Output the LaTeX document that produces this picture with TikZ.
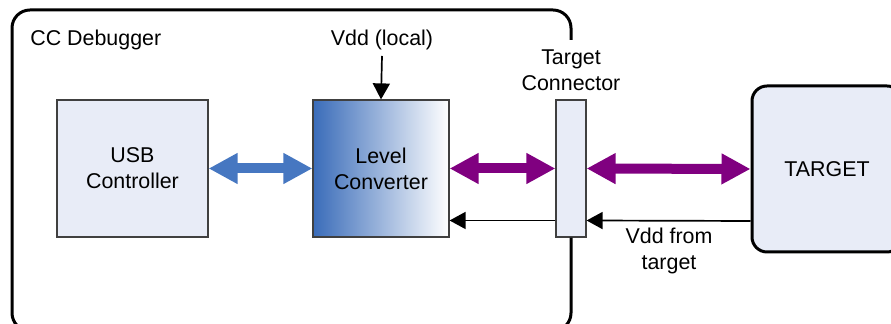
\documentclass[tikz,border=0pt]{standalone}
\usepackage{fontspec}
\setmainfont{Liberation Sans}
\usetikzlibrary{arrows.meta}
\definecolor{lightfill}{HTML}{E8ECF7}
\definecolor{boxborder}{HTML}{404040}
\definecolor{bluearrow}{HTML}{4677C1}
\definecolor{lcdark}{HTML}{3A6CB9}
\definecolor{purplearrow}{HTML}{800080}
\tikzset{
  lbl/.style={font=\fontsize{10.7pt}{13pt}\selectfont, align=center, inner sep=0pt, text=black},
  blockbox/.style={draw=boxborder, line width=0.6pt, fill=lightfill, inner sep=0pt, lbl},
  bigarrow/.style={line width=5pt, {Triangle[length=14.5pt,width=14.5pt]}-{Triangle[length=14.5pt,width=14.5pt]}},
  thinarrow/.style={line width=0.85pt, -{Triangle[length=8pt,width=8.5pt]}},
  heavyline/.style={line width=1.5pt, rounded corners=9pt},
}
\begin{document}
\begin{tikzpicture}[x=0.5pt,y=-0.5pt]
\useasboundingbox (0,0) rectangle (891,324);
% blocks
\node[blockbox, minimum width=75.5pt, minimum height=68.5pt] (usb) at (132.5,168.5) {USB\\Controller};
\node[blockbox, minimum width=68pt, minimum height=68.5pt, left color=lcdark, right color=white] (lc) at (381,168.5) {Level\\Converter};
\node[blockbox, minimum width=15pt, minimum height=68.5pt] (tc) at (571,168.5) {};
\node[draw=black, line width=1.5pt, fill=lightfill, rounded corners=7.5pt, minimum width=75pt, minimum height=83pt, lbl] (target) at (827,169) {TARGET};
% outer box
\draw[heavyline] (571,40) -- (571,10) -- (12,10) -- (12,331) -- (571,331) -- (tc.south);
% labels
\node[lbl, anchor=west] (cc) at (30,40) {CC Debugger};
\node[lbl] (vdd) at (382,40) {Vdd (local)};
\node[lbl] (tclbl) at (571,70) {Target\\Connector};
\node[lbl] (vddt) at (669,250.5) {Vdd from\\target};
\coordinate (vddsrc) at (382,56);
% arrows
\draw[thinarrow] (vddsrc) -- (lc.north);
\draw[bigarrow, bluearrow] (usb.east) -- (lc.west);
\draw[bigarrow, purplearrow] (lc.east) -- (tc.west);
\draw[bigarrow, purplearrow] (tc.east) -- (target.west);
\draw[thinarrow] ([yshift=-26pt]target.west) -- ([yshift=-26pt]tc.east);
\draw[thinarrow] ([yshift=-26pt]tc.west) -- ([yshift=-26pt]lc.east);
\end{tikzpicture}
\end{document}
